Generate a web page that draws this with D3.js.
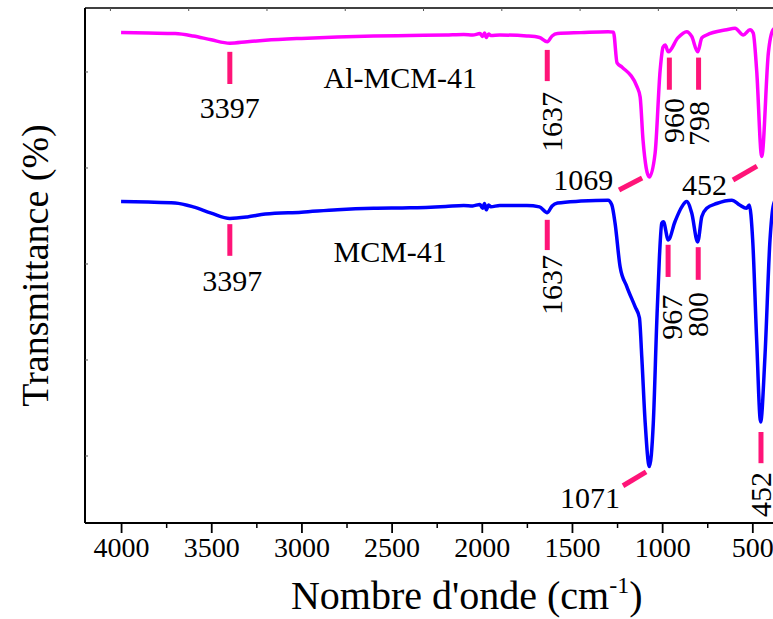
<!DOCTYPE html>
<html><head><meta charset="utf-8">
<script src="https://cdn.jsdelivr.net/npm/d3@7"></script>
<style>body{margin:0;background:#fff;} svg{display:block;} text{font-family:"Liberation Serif","Times New Roman",Tinos,"DejaVu Serif",serif;}</style>
</head><body>
<svg id="c" width="773" height="619"></svg>
<script>
// ---- data (wavenumber cm-1, transmittance a.u.) ----
const alWn = [4000,3850,3700,3600,3500,3397,3300,3200,3000,2800,2600,2400,2200,2100,2050,2010,1995,1985,1975,1962,1950,1900,1750,1680,1637,1610,1580,1450,1300,1270,1250,1222,1139,1122,1106,1071,1039,1011,995,983,966,913,864,836,803,780,753,642,596,550,513,495,476,448,411,385,370];
const alT  = [108.2,108.1,108.0,107.5,106.7,106.0,106.3,106.6,107.0,107.3,107.5,107.6,107.7,107.8,107.7,108.0,107.4,108.1,107.2,107.9,107.6,107.7,107.5,107.2,106.3,107.5,108.0,108.2,108.4,108.3,101.9,101.0,96.9,94.8,85.8,78.1,83.1,100.4,105.2,105.6,104.2,107.1,108.4,107.4,104.2,107.1,107.7,108.8,109.1,107.7,108.8,108.1,100.4,82.4,104.0,108.8,109.2];
const mcmWn = [4000,3850,3700,3600,3500,3397,3300,3200,3000,2800,2600,2400,2200,2100,2050,2010,1995,1985,1975,1962,1950,1900,1750,1680,1637,1610,1580,1450,1300,1279,1261,1233,1196,1150,1126,1113,1094,1071,1049,1030,1015,1002,993,966,929,891,864,836,803,780,753,698,614,570,533,517,498,476,454,430,402,385,370];
const mcmT  = [73.0,72.9,72.7,71.9,70.6,69.5,69.8,70.4,70.8,71.3,71.6,71.7,72.0,72.2,72.1,72.4,71.6,72.6,71.3,72.3,71.9,72.2,72.2,71.9,70.7,72.1,72.7,73.1,73.3,72.3,68.5,59.4,55.3,51.1,48.8,40.7,26.9,17.8,26.9,47.7,61.5,68.5,68.8,65.0,68.8,71.9,73.0,70.6,64.6,69.9,71.6,72.6,73.3,72.3,71.6,72.3,65.0,44.2,27.1,40.7,65.0,71.9,73.5];
const seriesNames = ["Al-MCM-41","MCM-41"];
const seriesColors = ["#ff00ff","#0000ff"];

const xTicks = [4000,3500,3000,2500,2000,1500,1000,500];
const xMinorTicks = [3750,3250,2750,2250,1750,1250,750,250];
const topTicks = [4059,3625,3191,2757,2323,1889,1455,1021,587];
const yTicks = [20,40,60,80,100];

// peak markers: [wn0, t0, wn1, t1]
const peakMarkers = [
  [3397,104.2,3397,97.5],[1637,104.6,1637,98.1],[960,103.0,960,96.3],[798,103.0,798,96.3],
  [1239,75.4,1111,77.9],[607,77.5,474,80.4],
  [3397,68.3,3397,61.7],[1637,69.2,1637,62.9],[967,64.0,967,57.3],[800,63.5,800,56.7],
  [452,25.0,452,18.5],[1217,13.8,1089,16.7]
];
// peak labels: [text, wn, t, rotated, anchor]
const peakLabels = [
  ["3397",3397,90.4,false,"middle"],["1637",1555,89.6,true,"middle"],
  ["960",878,85.2,true,"start"],["798",740,84.6,true,"start"],
  ["1069",1271,75.4,false,"end"],["452",640,74.4,false,"end"],
  ["3397",3383,54.4,false,"middle"],["1637",1555,55.6,true,"middle"],
  ["967",889,44.2,true,"start"],["800",745,44.8,true,"start"],
  ["1071",1233,9.2,false,"end"],["452",397,7.3,true,"start"]
];
const seriesLabels = [[seriesNames[0],2452,96.7],[seriesNames[1],2508,60.4]];

// ---- drawing ----
const svg = d3.select("#c");
const L = 85, T = 8, B = 523, R = 842.5;
const x = d3.scaleLinear().domain([4200,0]).range([L,R]);
const y = d3.scaleLinear().domain([6.04,113.33]).range([B,T]);

// frame
svg.append("line").attr("x1",L).attr("x2",R).attr("y1",T).attr("y2",T).attr("stroke","#000").attr("stroke-width",1.5);
svg.append("line").attr("x1",L).attr("x2",L).attr("y1",T).attr("y2",B).attr("stroke","#000").attr("stroke-width",2);

// bottom axis
const gx = svg.append("g").attr("transform",`translate(0,${B})`)
  .call(d3.axisBottom(x).tickValues(xTicks).tickSize(10).tickPadding(4).tickFormat(d3.format("d")));
gx.attr("font-family",null);
gx.select(".domain").attr("stroke-width",2).attr("d",`M${L},0H${R}`);
gx.selectAll(".tick line").attr("stroke-width",1.8);
gx.selectAll(".tick text").attr("font-size",28).attr("fill","#000");
const gxm = svg.append("g").attr("transform",`translate(0,${B})`)
  .call(d3.axisBottom(x).tickValues(xMinorTicks).tickSize(5).tickFormat(""));
gxm.select(".domain").remove();
gxm.selectAll(".tick line").attr("stroke-width",1.5);

// top & left small ticks
svg.append("g").selectAll("line").data(topTicks).join("line")
  .attr("x1",d=>x(d)).attr("x2",d=>x(d)).attr("y1",T).attr("y2",T+3)
  .attr("stroke","#555").attr("stroke-width",1);
svg.append("g").selectAll("line").data(yTicks).join("line")
  .attr("x1",L).attr("x2",L+3).attr("y1",d=>y(d)).attr("y2",d=>y(d))
  .attr("stroke","#555").attr("stroke-width",1);

// curves
const line = d3.line().x(d=>x(d[0])).y(d=>y(d[1])).curve(d3.curveMonotoneX);
const series = [alWn.map((w,i)=>[w,alT[i]]), mcmWn.map((w,i)=>[w,mcmT[i]])];
series.forEach((s,i)=>{
  svg.append("path").datum(s).attr("d",line).attr("fill","none")
    .attr("stroke",seriesColors[i]).attr("stroke-width",3.5).attr("stroke-linejoin","round");
});

// markers
svg.append("g").selectAll("line").data(peakMarkers).join("line")
  .attr("x1",d=>x(d[0])).attr("y1",d=>y(d[1])).attr("x2",d=>x(d[2])).attr("y2",d=>y(d[3]))
  .attr("stroke","#ff1478").attr("stroke-width",5);

// peak labels
svg.append("g").selectAll("text").data(peakLabels).join("text")
  .attr("transform",d=>`translate(${x(d[1])},${y(d[2])})` + (d[3]?" rotate(-90)":""))
  .attr("text-anchor",d=>d[4]).attr("font-size",30).attr("fill","#000")
  .text(d=>d[0]);

// series labels
svg.append("g").selectAll("text").data(seriesLabels).join("text")
  .attr("x",d=>x(d[1])).attr("y",d=>y(d[2])).attr("text-anchor","middle")
  .attr("font-size",30).attr("fill","#000").text(d=>d[0]);

// axis titles
const xt = svg.append("text").attr("x",(L+R)/2+3).attr("y",609).attr("text-anchor","middle")
  .attr("font-size",40).attr("fill","#000");
xt.append("tspan").text("Nombre d'onde (cm");
xt.append("tspan").attr("font-size",24).attr("dy",-16).text("-1");
xt.append("tspan").attr("dy",16).text(")");

svg.append("text").attr("transform",`translate(48,${(T+B)/2}) rotate(-90)`)
  .attr("text-anchor","middle").attr("font-size",38).attr("fill","#000")
  .text("Transmittance (%)");
</script>
</body></html>
